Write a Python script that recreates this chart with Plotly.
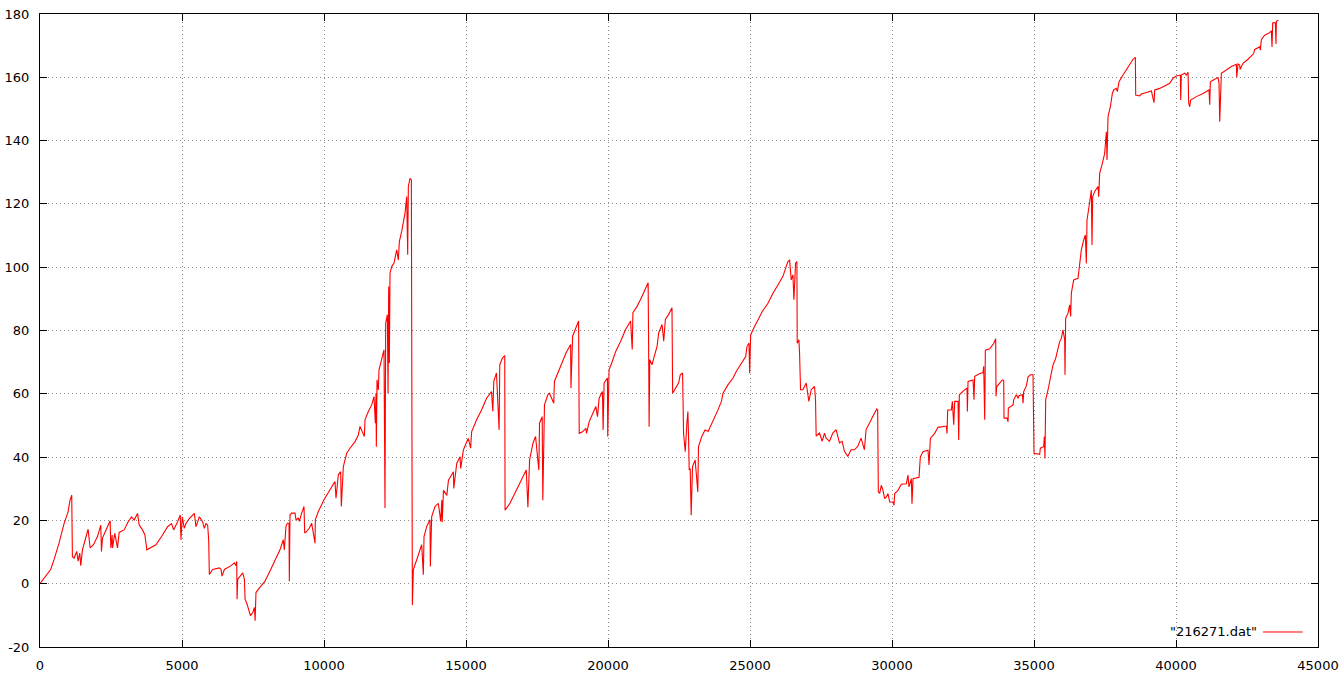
import plotly.graph_objects as go

# ---- data (x = sample index, y = value) ----
seg1_x = [0, 376, 494, 670, 847, 988, 1058, 1117, 1141, 1200, 1294, 1340, 1400, 1435, 1494, 1611, 1694, 1764, 1882, 2023,
          2140, 2164, 2200, 2352, 2470, 2493, 2540, 2552, 2634, 2728, 2787, 2963, 3105, 3222, 3316, 3434, 3493, 3610, 3693,
          3763, 3904, 4081, 4281, 4492, 4633, 4704, 4845, 4939, 4963, 5010, 5080, 5139, 5257, 5433, 5492, 5610, 5727, 5786,
          5845, 5904, 5939, 5963, 6080, 6315, 6374, 6409, 6492, 6727, 6845, 6904, 6927, 6939, 6962, 7056, 7139, 7198, 7222,
          7292, 7351, 7410, 7492, 7551, 7575]
seg1_y = [0, 4.5, 7.6, 12.8, 19, 22.7, 26.4, 28, 8.5, 8.1, 10.2, 7.1, 9.7, 5.7, 10.7, 14.4, 17.2, 11.3, 12.3, 14.9,
          18.5, 10.2, 14.4, 17.5, 19.9, 11.3, 15.4, 11.3, 15.9, 11.3, 16.2, 17, 19.6, 21.1, 20.1, 22.2, 18.5, 17, 15.4,
          10.7, 11.3, 12.3, 14.9, 18, 19, 17, 19.6, 21.7, 13.9, 21.1, 17.5, 19, 20.6, 22.2, 18, 21.1, 19.6, 17.5,
          19, 18.5, 13.9, 2.9, 4.5, 5, 4.5, 2.4, 4.5, 5.7, 6.6, 5.7, 7.1, -4.9, 1.4, 2.4, 3.4, 1.4, -4.9,
          -6.5, -8.5, -10.1, -9.1, -7.5, -11.7]

seg2_x = [7605, 7687, 7922, 8098, 8274, 8450, 8568, 8603, 8662, 8709, 8768, 8779, 8803, 8861, 8979, 9014, 9096, 9131, 9213,
          9296, 9320, 9390, 9484, 9566, 9683, 9695, 9800, 10000, 10211, 10387, 10423, 10505, 10587, 10610, 10681, 10798,
          10916, 11092, 11209, 11268, 11420, 11444, 11561, 11679, 11761, 11808, 11831, 11843, 11867, 11914, 11937, 12031,
          12113, 12148, 12172, 12231, 12255, 12278, 12301, 12325, 12383, 12465, 12559, 12618, 12653, 12735, 12794, 12853,
          12912, 12947, 12970, 13029, 13076, 13088, 13111, 13146, 13264, 13381, 13440, 13498, 13522, 13616, 13733, 13745,
          13792, 13909, 14027, 14109]
seg2_y = [-2.8, -1.8, 0.8, 4, 7.5, 10.7, 13.9, 10.7, 18.1, 19.1, 19.1, 0.8, 21.7, 22.3, 22.3, 20.2, 20.7, 19.7, 22.3,
          24.4, 16, 16.5, 17.6, 19.1, 12.8, 20.2, 22.8, 26.5, 29.7, 32.3, 27, 34.4, 35.4, 24.4, 37, 41.2,
          42.8, 44.9, 47, 49.7, 46.5, 51.8, 54.4, 56.5, 59.1, 50.7, 60.2, 43.3, 64.4, 61.2, 67.6, 70.7,
          73.9, 23.9, 82.3, 85, 60.2, 93.9, 69.7, 98.1, 100.2, 101.3, 105.5, 102.3, 108.1, 111.3, 113.9, 117.1,
          122.3, 103.9, 125.5, 128.1, 127.6, 3.3, -6.7, 4.4, 7.5, 10.7, 12.3, 2.8, 14.9, 18.1, 20.2, 5.4,
          21.2, 24.4, 25.4, 19.7]

seg3_x = [14149, 14161, 14207, 14324, 14382, 14557, 14569, 14674, 14790, 14813, 14907, 15000, 15082, 15163, 15198, 15373,
          15548, 15723, 15898, 15944, 15979, 16073, 16166, 16189, 16283, 16364, 16376, 16539, 16714, 16831, 17006, 17122,
          17180, 17239, 17355, 17449, 17565, 17589, 17682, 17705, 17763, 17880, 17938, 18090, 18113, 18288, 18405, 18521,
          18684, 18696, 18754, 18871, 18964, 18987, 19104, 19221, 19244, 19338, 19455, 19571, 19630, 19688, 19805, 19828,
          19863, 19980, 19991, 20037, 20154, 20271, 20446, 20620, 20795, 20853, 20877, 21028, 21203, 21378, 21413, 21436,
          21448, 21471, 21553, 21611, 21728, 21786, 21903, 21961, 22020, 22137, 22253, 22276, 22370, 22486, 22545, 22626,
          22661, 22720, 22778, 22813, 22836, 22859, 22894, 22929, 22976, 23069, 23162, 23186, 23302, 23419]
seg3_y = [26.4, 19.5, 29.5, 27.9, 32.7, 35.4, 30.1, 38, 40.1, 36.4, 42.2, 44.3, 45.9, 42.8, 48, 51.8,
          54.9, 58.6, 60.7, 54.4, 63.9, 66.6, 48.6, 69.2, 71.3, 72.1, 23.2, 25.3, 28.5, 30.6, 33.8, 35.9,
          24.2, 39.1, 44.3, 46.5, 35.9, 50.7, 52.8, 26.4, 56.5, 59.7, 60.2, 57, 63.9, 67.6, 70.3, 72.9,
          75.6, 61.8, 78.2, 80.8, 83, 47.5, 48, 49.1, 47.5, 51.2, 53.9, 56, 52.8, 58.6, 60.7, 48.6,
          63.4, 65, 46.5, 67.6, 70.3, 73.4, 76.6, 80.3, 83, 74, 85.6, 87.7, 90.9, 94.6, 95.1, 68.1,
          49.6, 70.8, 69.2, 71.3, 75, 79.3, 81.9, 76.6, 83.5, 85.1, 87.2, 60.2, 61.8, 63.4, 66, 66.6,
          47.5, 41.7, 50.7, 54.4, 46.5, 35.9, 36.4, 21.6, 37, 39.1, 29, 43.3, 46.5, 48.6]

seg4_x = [23525, 23700, 23876, 23993, 24051, 24227, 24403, 24520, 24696, 24848, 24895, 24965, 24988, 25023, 25129, 25281,
          25433, 25632, 25808, 25984, 26159, 26335, 26394, 26452, 26511, 26546, 26604, 26651, 26663, 26722, 26745, 26780,
          26862, 26979, 27038, 27073, 27155, 27272, 27307, 27330, 27447, 27541, 27623, 27682, 27799, 27916, 28033, 28091,
          28150, 28244, 28326, 28443, 28560, 28677, 28794, 28911, 29028, 29087, 29204, 29321, 29462]
seg4_y = [48.1, 51.3, 55, 57.6, 60.2, 62.9, 65, 67.1, 69.7, 71.8, 75, 76, 66.5, 78.6, 80.7, 83.4,
          86, 88.6, 91.8, 94.4, 97.1, 101.8, 102.3, 96, 97.6, 89.7, 101.3, 101.8, 76, 77.1, 72.9, 61.3,
          61.3, 63.4, 60.2, 57.6, 61.3, 62.3, 58.1, 46.6, 47.6, 45, 47.6, 46, 45, 47.6, 48.7, 46.6,
          44.5, 45, 41.8, 40.2, 42.3, 42.3, 43.4, 46, 42.3, 48.7, 50.8, 52.9, 55.2]

seg5_x = [29495, 29519, 29566, 29624, 29683, 29742, 29800, 29859, 29918, 30035, 30070, 30094, 30211, 30329, 30505, 30563,
          30599, 30681, 30704, 30740, 30951, 30998, 31092, 31268, 31304, 31350, 31503, 31620, 31914, 31937, 31961, 32090,
          32126, 32173, 32208, 32325, 32349, 32372, 32560, 32642, 32654, 32677, 32853, 32888, 32912, 33088, 33205, 33229,
          33264, 33287, 33440, 33581, 33651, 33663, 33687, 33792, 33886, 33933, 33945, 34050, 34086, 34097, 34203, 34262,
          34285, 34379, 34438, 34473, 34590, 34614, 34637, 34731, 34790, 34872, 34966]
seg5_y = [54.9, 29, 28.5, 31.1, 29.5, 26.9, 27.4, 28.5, 25.8, 25.8, 24.8, 28.5, 29.5, 31.4, 31.6, 34.3,
          30.6, 33.2, 25.3, 33.2, 33.6, 40.1, 41.7, 42.2, 37.5, 45.9, 47.5, 49.4, 49.8, 47.5, 54.9, 54.9,
          57.6, 50.2, 57.6, 57.6, 45.4, 59.7, 61.3, 61.8, 54.4, 63.9, 64.4, 58.1, 65.5, 66.4, 66.6, 68.7,
          51.8, 73.8, 74.2, 75.9, 77.4, 59.2, 62.3, 63.4, 64.4, 64.2, 52.3, 52.3, 51.2, 55.5, 56, 56.5,
          58.1, 59.7, 58.6, 59.4, 59.7, 57, 60.7, 62.5, 65.3, 66, 66]

seg6_x = [35000, 35200, 35223, 35340, 35364, 35387, 35411, 35493, 35610, 35669, 35763, 35845, 35904, 35963, 36021, 36080,
          36092, 36115, 36197, 36256, 36291, 36315, 36397, 36550, 36608, 36667, 36749, 36808, 36843, 36867, 36937, 36984,
          37019, 37043, 37066, 37137, 37254, 37278, 37313, 37407, 37489, 37524, 37548, 37571, 37606, 37689, 37759, 37806,
          37900, 37935, 37994, 38135, 38252, 38369, 38487, 38569, 38581, 38722, 38781, 38957, 39133, 39227, 39250, 39426,
          39661, 39778, 39896, 40013, 40154, 40166, 40189, 40307, 40365, 40424, 40447, 40482, 40518, 40717, 40952, 41128,
          41163, 41187, 41210, 41363, 41480, 41515, 41539, 41598, 41774, 41950, 42126, 42138, 42185, 42244, 42256]
seg6_y = [41.2, 40.9, 42.8, 43.3, 46.5, 39.6, 58.1, 61.2, 66.5, 69.1, 71.2, 73.9, 76.5, 77.5, 80.2, 77,
          66, 83.9, 85.4, 88.1, 84.4, 91.8, 96, 96.5, 100.2, 105.5, 108.6, 110.2, 101.2, 114.9, 119.1, 123.4,
          124.4, 107, 122.3, 123.9, 125.5, 122.3, 129.7, 132.8, 136, 140.2, 142.8, 133.9, 147.6, 150.7, 154.9, 156,
          156.5, 155.5, 158.6, 160.7, 162.3, 163.9, 165.7, 166.3, 154.4, 154.1, 154.7, 155.2, 155.7, 152, 156, 156.5,
          157.6, 158.1, 159.7, 160.4, 160.7, 152.8, 160.7, 161.3, 160.7, 161.6, 151.8, 150.7, 152.8, 153.9, 154.9, 155.8,
          156, 151.3, 158.6, 159.4, 159.9, 158.1, 146, 161.3, 162.3, 163.4, 164.1, 160, 164.2, 163.9, 162.5]

seg7_x = [42360, 42536, 42735, 42771, 42947, 42971, 43005, 43122, 43299, 43357, 43381, 43405, 43499, 43522, 43534, 43605]
seg7_y = [164.4, 165.7, 167.5, 168.8, 169.6, 168.6, 171.9, 173.3, 174.1, 174.7, 169.6, 177.2, 177.3, 170.5, 177.7, 178]

series_name = '"216271.dat"'
x_ticks = [0, 5000, 10000, 15000, 20000, 25000, 30000, 35000, 40000, 45000]
y_ticks = [-20, 0, 20, 40, 60, 80, 100, 120, 140, 160, 180]

xs = seg1_x + seg2_x + seg3_x + seg4_x + seg5_x + seg6_x + seg7_x
ys = seg1_y + seg2_y + seg3_y + seg4_y + seg5_y + seg6_y + seg7_y

FONT = "DejaVu Sans"
FSIZE = 13

fig = go.Figure()
fig.add_trace(go.Scatter(x=xs, y=ys, mode="lines", name=series_name,
                         line=dict(color="#ff0000", width=1.1), showlegend=False))

axis_common = dict(showline=True, linecolor="black", linewidth=1, mirror="ticks",
                   ticks="inside", ticklen=7, tickcolor="black", tickwidth=1,
                   showgrid=True, gridcolor="#8c8c8c", gridwidth=1, griddash="1px,3px",
                   zeroline=False, automargin=False,
                   tickfont=dict(family=FONT, size=FSIZE, color="black"))

fig.update_xaxes(range=[0, 45000], tickvals=x_ticks, ticktext=[str(v) for v in x_ticks],
                 ticklabelstandoff=6, **axis_common)
fig.update_yaxes(range=[-20, 180], tickvals=y_ticks, ticktext=[str(v) for v in y_ticks],
                 ticklabelstandoff=7, **axis_common)

# gnuplot-style key: text followed by a line sample, bottom-right inside the plot
fig.add_annotation(xref="paper", yref="paper", x=0.9535, y=0.0237, text=series_name,
                   showarrow=False, xanchor="right", yanchor="middle",
                   font=dict(family=FONT, size=FSIZE, color="black"))
fig.add_shape(type="line", xref="paper", yref="paper", x0=0.957, x1=0.988, y0=0.0237, y1=0.0237,
              line=dict(color="#ff0000", width=1))

fig.update_layout(width=1342, height=679, margin=dict(l=40, r=24, t=14, b=32),
                  paper_bgcolor="white", plot_bgcolor="white",
                  font=dict(family=FONT, size=FSIZE, color="black"))

fig.write_html("out.html", config={"displayModeBar": False},
               post_script="document.body.style.margin='0';document.body.style.overflow='hidden';")
